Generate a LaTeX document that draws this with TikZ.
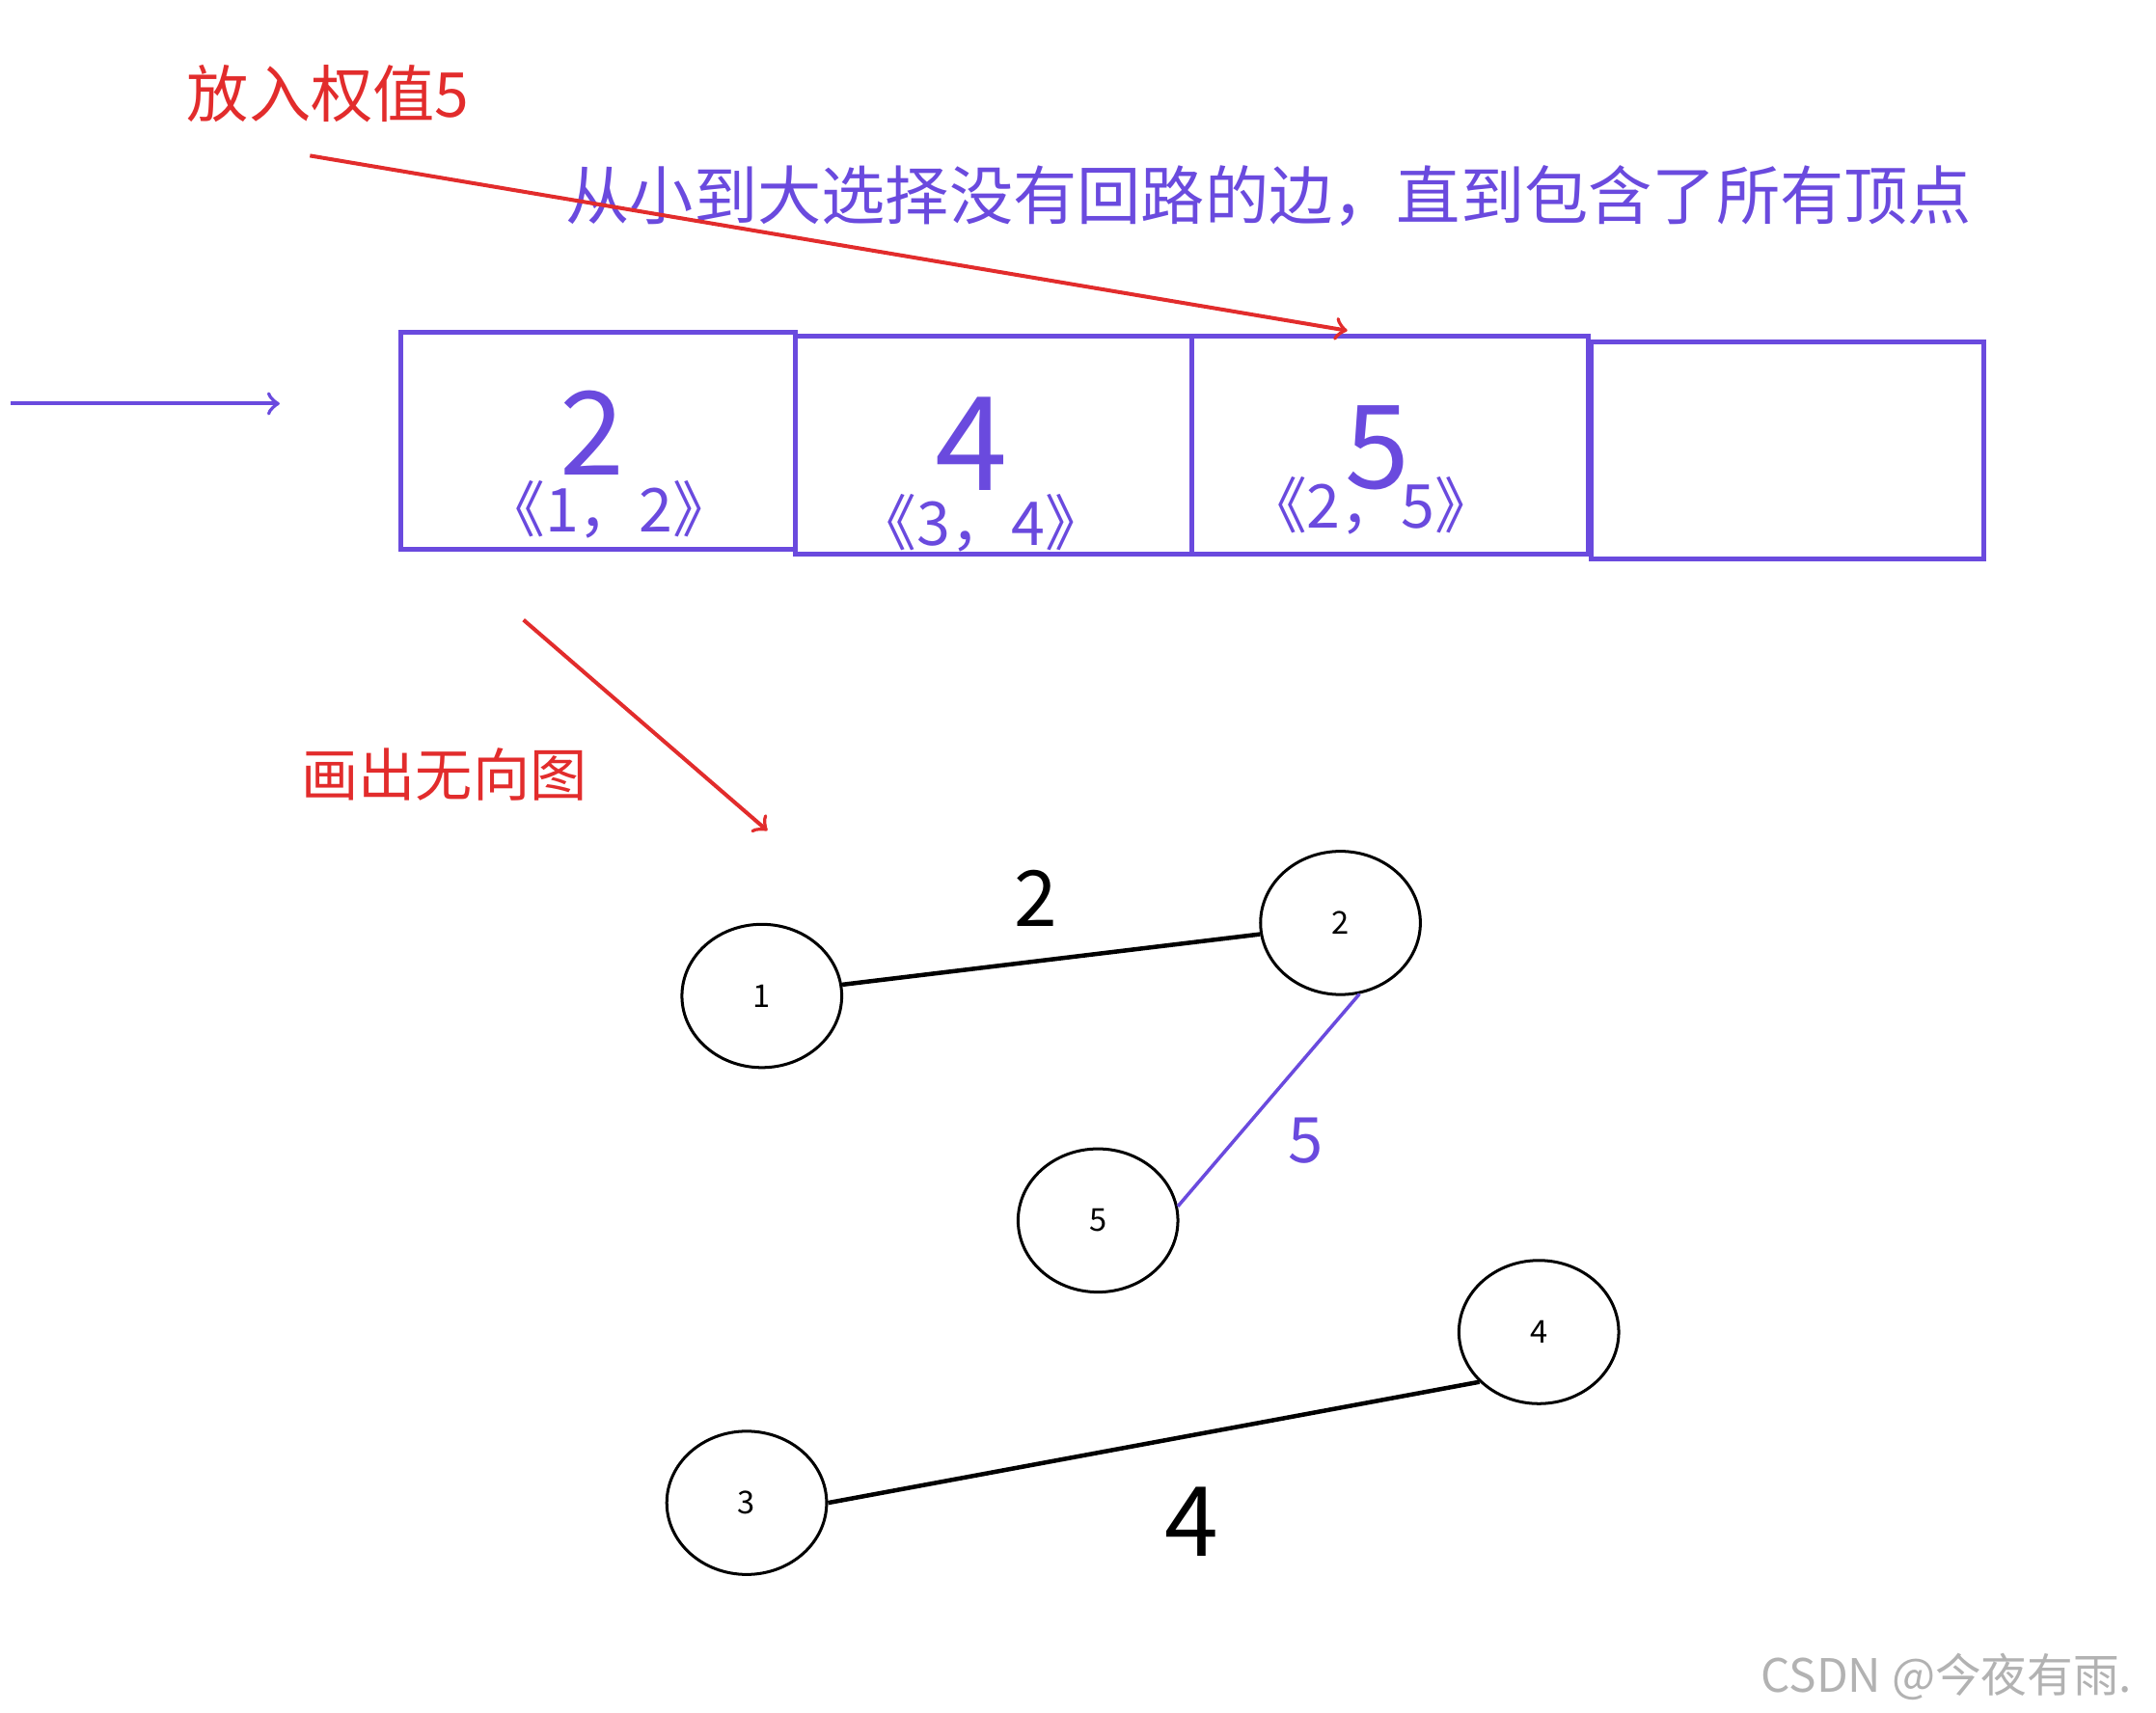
\documentclass[tikz,border=0pt]{standalone}
\usepackage{fontspec}
\setmainfont{Noto Sans CJK SC}
\usetikzlibrary{shapes.geometric}
\definecolor{violetline}{RGB}{106, 74, 222}
\definecolor{redline}{RGB}{226, 44, 44}

\begin{document}
\begin{tikzpicture}[
    vert/.style={draw=black, line width=0.6pt, ellipse, inner sep=0pt,
                 minimum width=1.16cm, minimum height=1.04cm,
                 font=\fontsize{6.5}{8}\selectfont},
    slot/.style={draw=violetline, line width=1pt},
    weight/.style={text=violetline, font=\fontsize{24}{26}\selectfont},
    pair/.style={text=violetline, font=\fontsize{12.5}{14}\selectfont},
    note/.style={text=redline, anchor=west, inner sep=0pt,
                 font=\fontsize{12.8}{14}\selectfont},
    redarrow/.style={draw=redline, line width=0.8pt, ->},
    link/.style={line width=0.9pt}
  ]
  \useasboundingbox (0, 0) rectangle (15.65, -12.43);

  % notes
  \node[note] (put) at (1.35, -0.68) {放入权值5};
  \node[text=violetline, anchor=west, inner sep=0pt, font=\fontsize{13.2}{15}\selectfont] (rule)
       at (4.10, -1.42) {从小到大选择没有回路的边，直到包含了所有顶点};
  \node[note, font=\fontsize{11.8}{13}\selectfont] (drawit) at (2.18, -5.62) {画出无向图};

  % the edge list
  \draw[slot] (2.91, -2.41) rectangle (5.77, -3.99);
  \draw[slot] (5.77, -2.44) rectangle (8.65, -4.02);
  \draw[slot] (8.65, -2.44) rectangle (11.53, -4.02);
  \draw[slot] (11.55, -2.48) rectangle (14.40, -4.06);

  \node[weight] (w1) at (4.30, -3.14) {2};
  \node[weight, font=\fontsize{27}{29}\selectfont] (w2) at (7.05, -3.22) {4};
  \node[weight] (w3) at (10.00, -3.25) {5};

  \node[pair] (p1) at (4.42, -3.70) {《1，2》};
  \node[pair] (p2) at (7.12, -3.80) {《3，4》};
  \node[pair] (p3) at (9.95, -3.67) {《2，5》};

  % arrows
  \coordinate (in0) at (0.08, -2.93);
  \coordinate (in1) at (2.03, -2.93);
  \draw[violetline, line width=0.8pt, ->] (in0) -- (in1);

  \coordinate (a0) at (2.25, -1.13);
  \coordinate (a1) at (9.78, -2.40);
  \draw[redarrow] (a0) -- (a1);

  \coordinate (b0) at (3.80, -4.50);
  \coordinate (b1) at (5.57, -6.03);
  \draw[redarrow] (b0) -- (b1);

  % the graph
  \node[vert] (n1) at (5.53, -7.23) {1};
  \node[vert] (n2) at (9.73, -6.70) {2};
  \node[vert] (n5) at (7.97, -8.86) {5};
  \node[vert] (n4) at (11.17, -9.67) {4};
  \node[vert] (n3) at (5.42, -10.91) {3};

  \draw[link] (n1.8) -- (n2.188);
  \draw[link, violetline, line width=0.7pt] (n2.-75) -- (n5.10);
  \draw[link] (n3.east) -- (n4.-140);

  \node[font=\fontsize{16}{18}\selectfont] (l12) at (7.52, -6.52) {2};
  \node[text=violetline, font=\fontsize{13}{15}\selectfont] (l25) at (9.48, -8.28) {5};
  \node[font=\fontsize{20}{22}\selectfont] (l34) at (8.65, -11.05) {4};

  \node[text=black!30, anchor=east, font=\fontsize{9.5}{11}\selectfont] (mark)
       at (15.60, -12.17) {CSDN @今夜有雨.};
\end{tikzpicture}
\end{document}
